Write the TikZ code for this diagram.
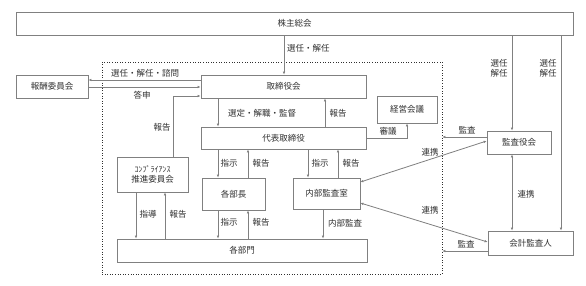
\documentclass[tikz,border=0pt]{standalone}
\usepackage{fontspec}
\setmainfont{Noto Sans CJK JP}
\usetikzlibrary{arrows.meta}
\definecolor{ln}{HTML}{808080}
\definecolor{tx}{HTML}{303030}
\begin{document}
\begin{tikzpicture}[x=1pt,y=-1pt,
  box/.style={draw=ln, line width=0.8pt, fill=white, text=tx, inner sep=0pt, font=\fontsize{8.5}{10}\selectfont},
  lbl/.style={text=tx, inner sep=0pt, font=\fontsize{8.5}{10}\selectfont},
  tipx/.tip={Latex[length=3pt,width=2.6pt]},
  arr/.style={draw=ln, line width=0.8pt, -tipx},
  darr/.style={draw=ln, line width=0.8pt, tipx-tipx},
  frm/.style={draw=tx, dotted, line width=0.6pt, inner sep=0pt}
]
\useasboundingbox (0,0) rectangle (586,285);
\fill[white] (0,0) rectangle (586,285);

% frame
\node[frm, minimum width=340pt, minimum height=212pt] (frame) at (272,168) {};

% boxes
\node[box, minimum width=557pt, minimum height=23pt] (kabu) at (294.5,23.5) {株主総会};
\node[box, minimum width=72pt, minimum height=23pt] (hoshu) at (52,86.5) {報酬委員会};
\node[box, minimum width=165pt, minimum height=23pt] (tori) at (283.5,86.5) {取締役会};
\node[box, minimum width=165pt, minimum height=22pt] (daihyo) at (283.5,138) {代表取締役};
\node[box, minimum width=60pt, minimum height=27pt] (keiei) at (407,109.5) {経営会議};
\node[box, minimum width=71pt, minimum height=35pt, align=center] (comp) at (152.5,174.5) {{\fontsize{8}{9}\selectfont ｺﾝﾌﾟﾗｲｱﾝｽ}\\[0pt]推進委員会};
\node[box, minimum width=63pt, minimum height=32pt] (bucho) at (233.5,194) {各部長};
\node[box, minimum width=67pt, minimum height=31pt] (naibu) at (326.5,193.5) {内部監査室};
\node[box, minimum width=250pt, minimum height=23pt] (bumon) at (242,250.5) {各部門};
\node[box, minimum width=64pt, minimum height=23pt] (kansa) at (519,142.5) {監査役会};
\node[box, minimum width=85pt, minimum height=24pt] (kaikei) at (530.5,243) {会計監査人};

% helper coordinates
\coordinate (c284) at (284,0);
\coordinate (c173) at (173,0);
\coordinate (c218) at (218,0);
\coordinate (c325) at (325,0);
\coordinate (c407) at (407,0);
\coordinate (c248) at (248,0);
\coordinate (c308) at (308,0);
\coordinate (c338) at (338,0);
\coordinate (c136) at (136,0);
\coordinate (c165) at (165,0);
\coordinate (c323) at (323,0);
\coordinate (c512) at (512,0);
\coordinate (c561) at (561,0);
\coordinate (r80) at (0,80);
\coordinate (r87) at (0,87);
\coordinate (r96) at (0,96);
\coordinate (r138) at (0,138);
\coordinate (r137) at (0,137);
\coordinate (r251) at (0,251);
\coordinate (r182) at (0,182);
\coordinate (r203) at (0,203);
\coordinate (r141) at (0,141);
\coordinate (r242) at (0,242);

% connectors
\draw[arr] (kabu.south -| c284) -- (tori.north -| c284);
\node[lbl, anchor=west] (l1) at (287,48) {選任・解任};

\draw[arr] (tori.west |- r80) -- (hoshu.east |- r80);
\node[lbl] (l2) at (145,73) {選任・解任・諮問};
\draw[arr] (hoshu.east |- r87) -- (tori.west |- r87);
\node[lbl] (l3) at (142,95) {答申};

\draw[arr] (comp.north -| c173) -- (c173 |- r96) -- (tori.west |- r96);
\node[lbl] (l4) at (162,127) {報告};

\draw[arr] (tori.south -| c218) -- (daihyo.north -| c218);
\node[lbl] (l5) at (262,113) {選定・解職・監督};
\draw[arr] (daihyo.north -| c325) -- (tori.south -| c325);
\node[lbl] (l6) at (338,113) {報告};

\draw[arr] (daihyo.east |- r138) -- (c407 |- r138) -- (keiei.south -| c407);
\node[lbl] (l7) at (388,131) {審議};

\draw[arr] (daihyo.south -| c218) -- (bucho.north -| c218);
\node[lbl] (l8) at (229,163) {指示};
\draw[arr] (bucho.north -| c248) -- (daihyo.south -| c248);
\node[lbl] (l9) at (261,163) {報告};

\draw[arr] (daihyo.south -| c308) -- (naibu.north -| c308);
\node[lbl] (l10) at (320,163) {指示};
\draw[arr] (naibu.north -| c338) -- (daihyo.south -| c338);
\node[lbl] (l11) at (351,163) {報告};

\draw[arr] (comp.south -| c136) -- (bumon.north -| c136);
\node[lbl] (l12) at (148,214) {指導};
\draw[arr] (bumon.north -| c165) -- (comp.south -| c165);
\node[lbl] (l13) at (178,214) {報告};

\draw[arr] (bucho.south -| c218) -- (bumon.north -| c218);
\node[lbl] (l14) at (229,222) {指示};
\draw[arr] (bumon.north -| c248) -- (bucho.south -| c248);
\node[lbl] (l15) at (261,222) {報告};

\draw[arr] (naibu.south -| c323) -- (bumon.north -| c323);
\node[lbl] (l16) at (345,223) {内部監査};

\draw[arr] (kabu.south -| c512) -- (kansa.north -| c512);
\node[lbl, align=center] (l17) at (499,68) {選任\\解任};
\draw[arr] (kabu.south -| c561) -- (kaikei.north -| c561);
\node[lbl, align=center] (l18) at (548,68) {選任\\解任};

\draw[arr] (kansa.west |- r137) -- (frame.east |- r137);
\node[lbl] (l19) at (467,130) {監査};
\draw[darr] (naibu.east |- r182) -- (kansa.west |- r141);
\node[lbl] (l20) at (430,152) {連携};
\draw[darr] (naibu.east |- r203) -- (kaikei.west |- r242);
\node[lbl] (l21) at (430,210) {連携};
\draw[darr] (kansa.south -| c512) -- (kaikei.north -| c512);
\node[lbl] (l22) at (526,194) {連携};
\draw[arr] (kaikei.west |- r251) -- (frame.east |- r251);
\node[lbl] (l23) at (466,244) {監査};
\end{tikzpicture}
\end{document}
